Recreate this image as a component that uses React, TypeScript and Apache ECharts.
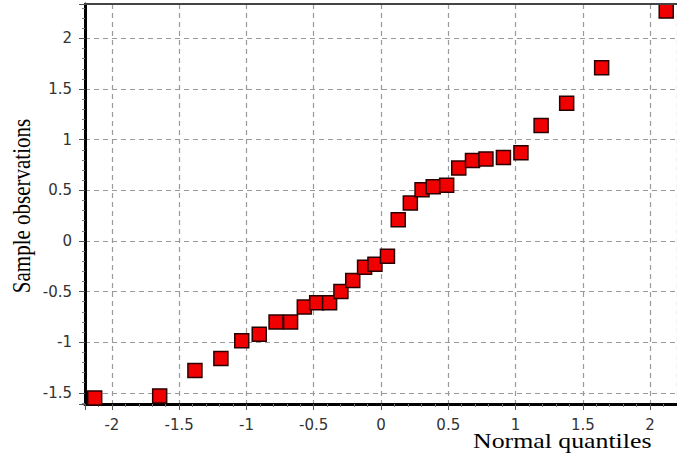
import React, { useEffect, useRef } from "react";
import * as echarts from "echarts";

const normalQuantiles = [
  -2.128, -1.645, -1.383, -1.19, -1.035, -0.905, -0.78, -0.672, -0.57, -0.478,
  -0.382, -0.298, -0.21, -0.122, -0.045, 0.048, 0.128, 0.218, 0.305, 0.388,
  0.488, 0.578, 0.68, 0.78, 0.91, 1.04, 1.19, 1.38, 1.64, 2.12,
];
const sampleObservations = [
  -1.55, -1.53, -1.28, -1.16, -0.985, -0.92, -0.8, -0.8, -0.653, -0.61,
  -0.61, -0.5, -0.39, -0.26, -0.23, -0.15, 0.21, 0.375, 0.505, 0.535,
  0.55, 0.72, 0.795, 0.81, 0.825, 0.87, 1.14, 1.36, 1.71, 2.27,
];
const xAxisTitle = "Normal quantiles";
const yAxisTitle = "Sample observations";

export default function App() {
  const ref = useRef<HTMLDivElement>(null);
  useEffect(() => {
    if (!ref.current) return;
    const chart = echarts.init(ref.current, null, { renderer: "svg" });
    const data = normalQuantiles.map((x, i) => [x, sampleObservations[i]]);
    const gridLeft = 85;
    const gridTop = 4;
    const labelStyle = {
      margin: 13,
      fontFamily: "DejaVu Sans, Verdana, sans-serif",
      fontSize: 15,
      color: "#333",
      showMinLabel: false,
      showMaxLabel: false,
    };
    const splitLine = { show: true, lineStyle: { color: "#9a9a9a", type: [5, 4], width: 1.2 } };
    chart.setOption({
      animation: false,
      backgroundColor: "#ffffff",
      grid: { left: gridLeft, top: gridTop, bottom: 55, right: -3 },
      xAxis: {
        type: "value",
        min: -2.2,
        max: 2.2,
        splitNumber: 9,
        axisLine: { show: true, onZero: false, lineStyle: { color: "#000", width: 3 } },
        axisTick: { show: true, length: 6, lineStyle: { color: "#555", width: 1 } },
        minorTick: { show: true, splitNumber: 5, length: 3, lineStyle: { color: "#777", width: 1 } },
        axisLabel: labelStyle,
        splitLine,
      },
      yAxis: {
        type: "value",
        min: -1.61,
        max: 2.34,
        splitNumber: 8,
        axisLine: { show: true, onZero: false, lineStyle: { color: "#000", width: 3 } },
        axisTick: { show: true, length: 6, lineStyle: { color: "#555", width: 1 } },
        minorTick: { show: true, splitNumber: 5, length: 3, lineStyle: { color: "#777", width: 1 } },
        axisLabel: labelStyle,
        splitLine,
      },
      graphic: [
        {
          type: "line",
          shape: { x1: gridLeft, y1: gridTop, x2: 677, y2: gridTop },
          style: { stroke: "#444", lineWidth: 2 },
          z: 10,
        },
        {
          type: "text",
          x: 473,
          y: 441,
          scaleX: 1.23,
          style: {
            text: xAxisTitle,
            fontFamily: "Liberation Serif, Times New Roman, serif",
            fontSize: 21,
            fill: "#000",
            align: "left",
            verticalAlign: "middle",
          },
        },
        {
          type: "text",
          x: 21,
          y: 206,
          rotation: Math.PI / 2,
          scaleY: 1.2,
          style: {
            text: yAxisTitle,
            fontFamily: "Liberation Serif, Times New Roman, serif",
            fontSize: 21,
            fill: "#000",
            align: "center",
            verticalAlign: "middle",
          },
        },
      ],
      series: [
        {
          type: "scatter",
          data,
          symbol: "rect",
          symbolSize: 14,
          itemStyle: { color: "#f00000", borderColor: "#2a0000", borderWidth: 1.5, opacity: 1 },
          z: 5,
        },
      ],
    });
    return () => chart.dispose();
  }, []);
  return <div ref={ref} style={{ width: 677, height: 459, position: "absolute", left: 0, top: 0 }} />;
}
